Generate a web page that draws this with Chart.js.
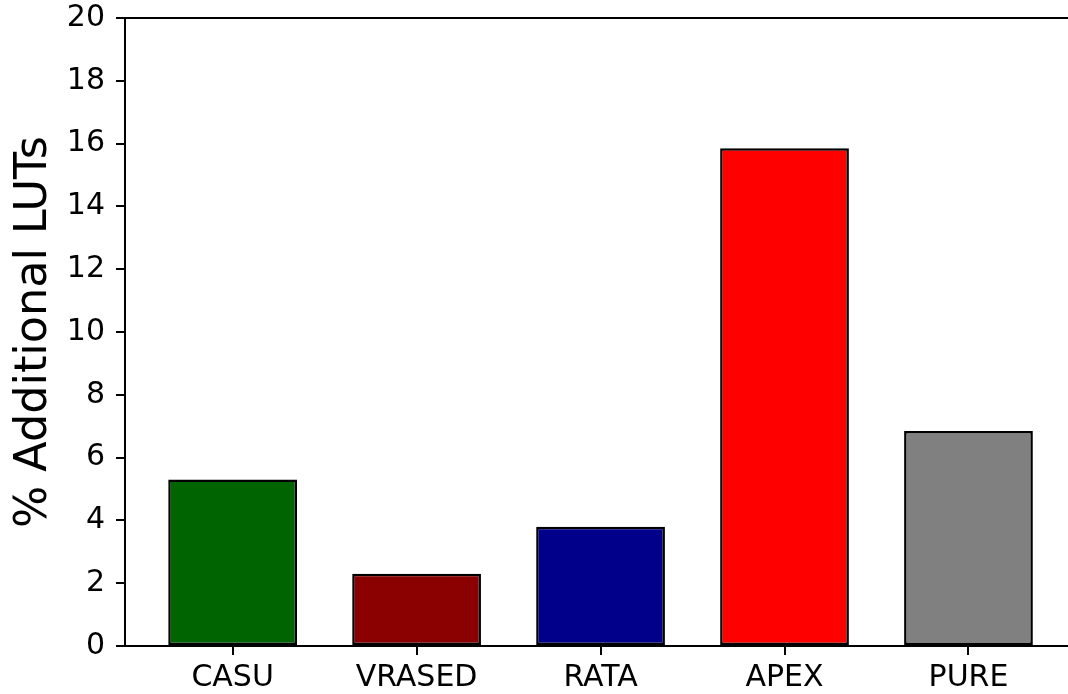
<!DOCTYPE html>
<html>
<head>
<meta charset="utf-8">
<script src="https://cdn.jsdelivr.net/npm/chart.js@4/dist/chart.umd.min.js"></script>
<style>
  html, body { margin: 0; padding: 0; background: #fff; overflow: hidden; }
  #wrap { width: 1068px; height: 694px; }
</style>
</head>
<body>
<div id="wrap"><canvas id="c" width="1068" height="694"></canvas></div>
<script>
const categories = ['CASU', 'VRASED', 'RATA', 'APEX', 'PURE'];
const values = [5.3, 2.3, 3.8, 15.85, 6.85];
const barColors = ['#006400', '#8b0000', '#00008b', '#ff0000', '#808080'];
const yTicks = [0, 2, 4, 6, 8, 10, 12, 14, 16, 18, 20];
const yLabel = '% Additional LUTs';

const FONT = "'DejaVu Sans', 'Liberation Sans', sans-serif";

new Chart(document.getElementById('c'), {
  type: 'bar',
  data: {
    datasets: [{
      data: categories.map((c, i) => ({ x: i, y: values[i] })),
      backgroundColor: barColors,
      borderColor: '#000',
      borderWidth: 2.5,
      borderSkipped: false,
      categoryPercentage: 1,
      barPercentage: 0.7
    }]
  },
  options: {
    responsive: false,
    animation: false,
    devicePixelRatio: 1,
    layout: { padding: { top: 18, left: 0, right: 0, bottom: 0 } },
    plugins: { legend: { display: false }, tooltip: { enabled: false } },
    scales: {
      x: {
        type: 'linear',
        position: 'bottom',
        offset: false,
        min: -0.585,
        max: 4.541,
        afterBuildTicks: (s) => { s.ticks = categories.map((c, i) => ({ value: i })); },
        afterFit: (s) => { s.height = 48; s.paddingLeft = 0; s.paddingRight = 0; },
        grid: { display: true, offset: false, drawOnChartArea: false, drawTicks: true, tickLength: 9, color: '#000', lineWidth: 2 },
        border: { display: true, color: '#000', width: 2 },
        ticks: {
          color: '#000', padding: 5, maxRotation: 0, autoSkip: false,
          font: { family: FONT, size: 30 },
          callback: (v) => categories[v]
        }
      },
      x2: {
        type: 'linear',
        position: 'top',
        min: 0, max: 1,
        afterFit: (s) => { s.height = 0; s.paddingLeft = 0; s.paddingRight = 0; },
        grid: { display: false, drawTicks: false },
        border: { display: true, color: '#000', width: 2 },
        ticks: { display: false }
      },
      y: {
        type: 'linear',
        min: 0,
        max: 20,
        afterBuildTicks: (s) => { s.ticks = yTicks.map(v => ({ value: v })); },
        afterFit: (s) => { s.width = 125; s.paddingTop = 0; s.paddingBottom = 0; },
        grid: { display: true, drawOnChartArea: false, drawTicks: true, tickLength: 9, color: '#000', lineWidth: 2 },
        border: { display: true, color: '#000', width: 2 },
        ticks: {
          color: '#000', padding: 11,
          font: { family: FONT, size: 30 }
        },
        title: {
          display: true,
          text: yLabel,
          color: '#000',
          padding: { top: 8, bottom: 0 },
          font: { family: FONT, size: 44.5, weight: 'normal' }
        }
      }
    }
  }
});
</script>
</body>
</html>
